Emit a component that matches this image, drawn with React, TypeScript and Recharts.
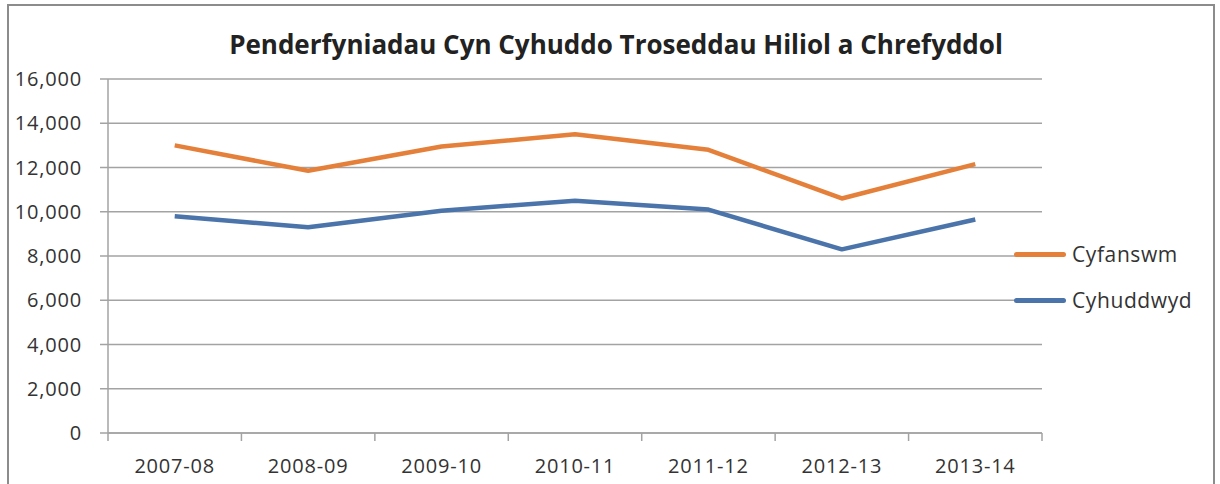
import React from "react"
import { LineChart, Line, XAxis, YAxis, CartesianGrid } from "recharts"

const categories = ["2007-08", "2008-09", "2009-10", "2010-11", "2011-12", "2012-13", "2013-14"]
const cyfanswm = [13000, 11850, 12950, 13500, 12800, 10600, 12150]
const cyhuddwyd = [9800, 9300, 10050, 10500, 10100, 8300, 9650]
const yTicks = [0, 2000, 4000, 6000, 8000, 10000, 12000, 14000, 16000]
const seriesNames = ["Cyfanswm", "Cyhuddwyd"]

const data = categories.map((c, i) => ({ year: c, Cyfanswm: cyfanswm[i], Cyhuddwyd: cyhuddwyd[i] }))

const FONT = "'Open Sans', sans-serif"
const ORANGE = "#E4803A"
const BLUE = "#4A74AA"
const GRID = "#a3a3a3"
const colors = [ORANGE, BLUE]

function XTick(props: any) {
  const { x, y, payload, index, visibleTicksCount } = props
  const off = payload.offset ?? 0
  const last = index === visibleTicksCount - 1
  return (
    <g>
      <line x1={x - off} x2={x - off} y1={y} y2={y + 8} stroke={GRID} strokeWidth={1.5} />
      {last && <line x1={x + off} x2={x + off} y1={y} y2={y + 8} stroke={GRID} strokeWidth={1.5} />}
      <text x={x} y={y + 40} textAnchor="middle" fontFamily={FONT} fontSize={20} fill="#333" letterSpacing={0.8}>
        {payload.value}
      </text>
    </g>
  )
}

export default function App() {
  return (
    <div style={{ position: "absolute", left: 0, top: 0, width: 1220, height: 484, background: "#fff", overflow: "hidden" }}>
      <div style={{ position: "absolute", left: 7, top: 4, width: 1204, height: 500, border: "2px solid #8c8c8c" }} />
      <div
        style={{
          position: "absolute", left: 0, top: 26, width: 1232, textAlign: "center",
          fontFamily: FONT, fontWeight: 700, fontSize: 26, color: "#222",
        }}
      >
        Penderfyniadau Cyn Cyhuddo Troseddau Hiliol a Chrefyddol
      </div>
      <div style={{ position: "absolute", left: 0, top: 0 }}>
        <LineChart width={1220} height={484} data={data} margin={{ top: 79, right: 178, bottom: 11, left: 8 }}>
          <CartesianGrid vertical={false} stroke={GRID} strokeWidth={1.5} />
          <XAxis
            dataKey="year"
            scale="band"
            height={40}
            tickSize={0}
            tickMargin={0}
            tick={<XTick />}
            interval={0}
            axisLine={{ stroke: GRID, strokeWidth: 1.5 }}
          />
          <YAxis
            width={100}
            domain={[0, 16000]}
            ticks={yTicks}
            tickSize={8}
            tickMargin={18}
            tickFormatter={(v: number) => v.toLocaleString("en-US")}
            tick={{ fontFamily: FONT, fontSize: 20, fill: "#333", letterSpacing: 0.8 }}
            tickLine={{ stroke: GRID, strokeWidth: 1.5 }}
            axisLine={{ stroke: GRID, strokeWidth: 1.5 }}
          />
          <Line dataKey="Cyfanswm" stroke={ORANGE} strokeWidth={4.5} dot={false} isAnimationActive={false} strokeLinejoin="round" />
          <Line dataKey="Cyhuddwyd" stroke={BLUE} strokeWidth={4.5} dot={false} isAnimationActive={false} strokeLinejoin="round" />
        </LineChart>
      </div>
      <div style={{ position: "absolute", left: 1014, top: 241, display: "flex", flexDirection: "column", gap: 20 }}>
        {seriesNames.map((n, i) => (
          <div key={n} style={{ display: "flex", alignItems: "center", height: 26 }}>
            <div style={{ width: 52, height: 5, borderRadius: 3, background: colors[i], marginRight: 6 }} />
            <span style={{ fontFamily: FONT, fontSize: 21, color: "#333", letterSpacing: 0.6 }}>{n}</span>
          </div>
        ))}
      </div>
    </div>
  )
}
